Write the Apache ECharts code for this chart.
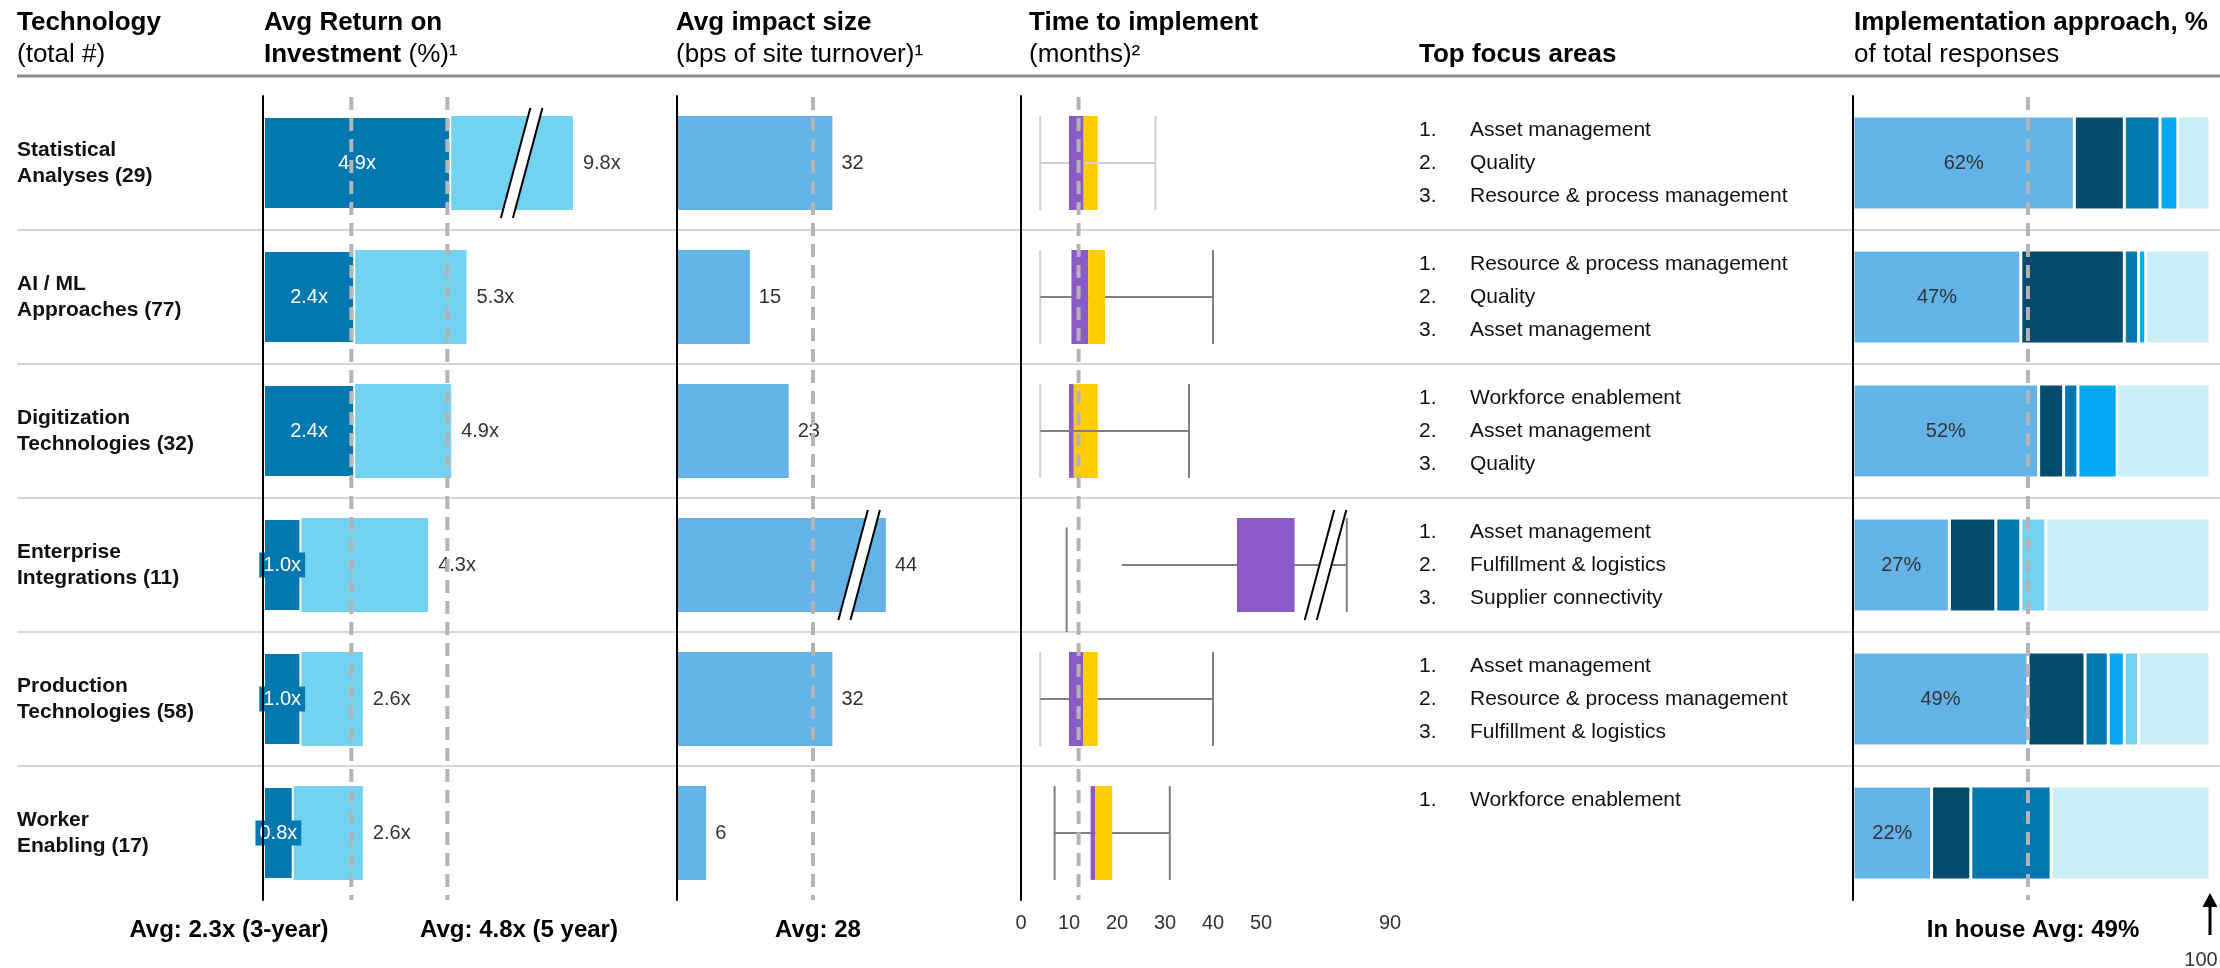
<!DOCTYPE html>
<html>
<head>
<meta charset="utf-8">
<script src="https://cdn.jsdelivr.net/npm/echarts@6.0.0/dist/echarts.min.js"></script>
<style>
  html, body { margin: 0; padding: 0; background: #fff; }
  #chart { width: 2220px; height: 968px; }
</style>
</head>
<body>
<div id="chart"></div>
<script>
// ---------- data ----------
const categories = [
  'Statistical\nAnalyses',
  'AI / ML\nApproaches',
  'Digitization\nTechnologies',
  'Enterprise\nIntegrations',
  'Production\nTechnologies',
  'Worker\nEnabling'
];
const responseCounts = [29, 77, 32, 11, 58, 17];

// Return on investment (multiple)
const roi3Year = [4.9, 2.4, 2.4, 1.0, 1.0, 0.8];
const roi5Year = [9.8, 5.3, 4.9, 4.3, 2.6, 2.6];
const roi3YearAvg = 2.3;
const roi5YearAvg = 4.8;

// Impact size (bps of site turnover)
const impactBps = [32, 15, 23, 44, 32, 6];
const impactAvg = 28;

// Time to implement (months)
const timeLowCap = [4, 4, 4, 9.5, 4, 7];
const timeLineFrom = [4, 4, 4, 21, 4, 7];
const timeQ1 = [10, 10.5, 10, 45, 10, 14.5];
const timeMedian = [13, 14, 11, 57, 13, 15.5];
const timeQ3 = [16, 17.5, 16, 57, 16, 19];
const timeHighCap = [28, 40, 35, 81, 40, 31];
const timeAvg = 12;
const timeTicks = [0, 10, 20, 30, 40, 50, 90];

// Top focus areas
const focusAreas = [
  ['Asset management', 'Quality', 'Resource & process management'],
  ['Resource & process management', 'Quality', 'Asset management'],
  ['Workforce enablement', 'Asset management', 'Quality'],
  ['Asset management', 'Fulfillment & logistics', 'Supplier connectivity'],
  ['Asset management', 'Resource & process management', 'Fulfillment & logistics'],
  ['Workforce enablement']
];

// Implementation approach, % of responses
const implInHouse = [62, 47, 52, 27, 49, 22];
const implApproachB = [14, 29, 7, 13, 16, 11];
const implApproachC = [10, 4, 4, 7, 6.5, 22.5];
const implApproachD = [5, 2, 11, 0, 4.5, 0];
const implApproachE = [0, 0, 0, 7, 4, 0];
const implApproachF = [9, 18, 26, 46, 20, 44.5];
const implInHouseAvg = 49;

// Axis breaks for the long bars
const roiBreak = { start: 6.2, end: 9.0, gap: 1.07 };
const impactBreak = { start: 36, end: 40, gap: 3 };
const timeBreak = { start: 60, end: 80, gap: 6.875 };

// ---------- styles ----------
const FONT = '"Liberation Sans", Arial, sans-serif';
const C = {
  roiDark: '#0277b0', roiLight: '#72d2f0', impact: '#63b3e9',
  purple: '#8a5bc6', yellow: '#ffcc00',
  whiskerDark: '#7f7f7f', whiskerFaint: '#d0d0d0',
  avg: '#b4b4b4', sep: '#c8c8c8', text: '#333', ink: '#111'
};
const implColors = ['#63b3e9', '#034b6f', '#0277b0', '#00a9f2', '#72d2f0', '#c8edf4'];

const TOP = 96, HEIGHT = 804;
const BAR_RATIO = 0.7;

const chart = echarts.init(document.getElementById('chart'), null, { renderer: 'canvas' });

function hiddenValueAxis(gridIndex, min, max, brk) {
  const ax = {
    gridIndex, type: 'value', min, max,
    axisLine: { show: false }, axisTick: { show: false },
    axisLabel: { show: false }, splitLine: { show: false }
  };
  if (brk) {
    ax.breaks = [{ start: brk.start, end: brk.end, gap: brk.gap }];
    ax.breakArea = { show: false, expandOnClick: false,
      itemStyle: { color: 'rgba(0,0,0,0)', borderColor: 'rgba(0,0,0,0)', borderWidth: 0, opacity: 0 } };
  }
  return ax;
}

function catAxis(gridIndex, showLine) {
  return {
    gridIndex, type: 'category', inverse: true, data: categories, z: 10,
    axisLine: { show: showLine, onZero: true, lineStyle: { color: '#000', width: 2 } },
    axisTick: { show: false }, axisLabel: { show: false }, splitLine: { show: false }
  };
}

// vertical dashed average marker across a panel
function avgLine(axisIndex, value) {
  return {
    type: 'custom', xAxisIndex: axisIndex, yAxisIndex: axisIndex, z: 20, silent: true,
    data: [[value, 0]], encode: { x: 0, y: 1 },
    renderItem(params, api) {
      const x = api.coord([api.value(0), 0])[0];
      const cs = params.coordSys;
      return {
        type: 'line',
        shape: { x1: x, y1: cs.y + 1, x2: x, y2: cs.y + cs.height },
        style: { stroke: C.avg, lineWidth: 4, lineDash: [13, 8] }
      };
    }
  };
}

// double-slash break marker drawn across a bar
function breakMark(cx, cy, band) {
  const h = band * 0.41, w = band * 0.155, t = band * 0.09;
  return {
    type: 'group',
    children: [
      { type: 'polygon', shape: { points: [[cx - w, cy + h], [cx - w + t, cy + h], [cx + w, cy - h], [cx + w - t, cy - h]] },
        style: { fill: '#fff' } },
      { type: 'line', shape: { x1: cx - w, y1: cy + h, x2: cx + w - t, y2: cy - h }, style: { stroke: '#000', lineWidth: 2 } },
      { type: 'line', shape: { x1: cx - w + t, y1: cy + h, x2: cx + w, y2: cy - h }, style: { stroke: '#000', lineWidth: 2 } }
    ]
  };
}

function breakSeries(axisIndex, values, brk) {
  const mid = (brk.start + brk.end) / 2;
  const items = [];
  values.forEach((v, i) => { if (v > brk.start) items.push([mid, i]); });
  return {
    type: 'custom', xAxisIndex: axisIndex, yAxisIndex: axisIndex, z: 15, silent: true,
    data: items, encode: { x: 0, y: 1 },
    renderItem(params, api) {
      const p = api.coord([api.value(0), api.value(1)]);
      const band = api.size([0, 1])[1];
      return breakMark(p[0], p[1], band);
    }
  };
}

// per-row drawing details of the time ranges
const whiskerTone = ['all', 'low', 'low', 'none', 'low', 'none'];   // which parts are faint
const layerOrder = ['yrlp', 'lpy', 'pyl', 'lpy', 'lpy', 'lpy'];     // l = range line, p = purple, y = yellow
const lowCapSpan = [null, null, null, [-0.28, 0.5], null, null];    // custom cap extent (band fractions)

const boxData = timeQ1.map((_, i) => [i, timeLowCap[i], timeLineFrom[i], timeQ1[i], timeMedian[i], timeQ3[i], timeHighCap[i]]);

const option = {
  animation: false,
  backgroundColor: '#fff',
  textStyle: { fontFamily: FONT },
  grid: [
    { left: 263, top: TOP, width: 356, height: HEIGHT, outerBoundsMode: 'none' },   // ROI
    { left: 677, top: TOP, width: 286.6, height: HEIGHT, outerBoundsMode: 'none' }, // impact
    { left: 1021, top: TOP, width: 369, height: HEIGHT, outerBoundsMode: 'none' },  // time
    { left: 1419, top: TOP, width: 400, height: HEIGHT, outerBoundsMode: 'none' },  // focus areas
    { left: 1853, top: TOP, width: 357, height: HEIGHT, outerBoundsMode: 'none' },  // implementation
    { left: 17, top: TOP, width: 2203, height: HEIGHT, outerBoundsMode: 'none' }    // row separators
  ],
  xAxis: [
    hiddenValueAxis(0, 0, 11, roiBreak),
    hiddenValueAxis(1, 0, 60, impactBreak),
    Object.assign(hiddenValueAxis(2, 0, 90, timeBreak), {
      axisLabel: {
        show: true, customValues: timeTicks, margin: 13,
        color: C.text, fontSize: 20, fontFamily: FONT
      }
    }),
    hiddenValueAxis(3, 0, 1),
    hiddenValueAxis(4, 0, 100),
    hiddenValueAxis(5, 0, 1)
  ],
  yAxis: [
    Object.assign(catAxis(0, true), {
      axisLabel: {
        show: true, align: 'left', margin: 246,
        fontSize: 21, fontWeight: 'bold', lineHeight: 26, color: C.ink, fontFamily: FONT,
        formatter: (v, i) => v + ' (' + responseCounts[i] + ')'
      }
    }),
    catAxis(1, true),
    catAxis(2, true),
    catAxis(3, false),
    catAxis(4, true),
    Object.assign(catAxis(5, false), {
      z: 0,
      splitLine: { show: true, showMinLine: false, showMaxLine: false, lineStyle: { color: C.sep, width: 1.5 } }
    })
  ],
  series: [
    // ROI: 5-year bar behind, 3-year bar in front
    {
      type: 'bar', name: '5-year ROI', xAxisIndex: 0, yAxisIndex: 0, z: 2,
      data: roi5Year, barWidth: `${BAR_RATIO * 100}%`, barGap: '-100%',
      itemStyle: { color: C.roiLight },
      label: { show: true, position: 'right', distance: 10, color: C.text, fontSize: 20,
        formatter: p => roi5Year[p.dataIndex].toFixed(1) + 'x' }
    },
    {
      type: 'bar', name: '3-year ROI', xAxisIndex: 0, yAxisIndex: 0, z: 3,
      data: roi3Year, barWidth: `${BAR_RATIO * 100}%`, barGap: '-100%',
      itemStyle: { color: C.roiDark, borderColor: '#fff', borderWidth: 2 },
      label: { show: true, position: 'inside', color: '#fff', fontSize: 20,
        backgroundColor: C.roiDark, padding: [3, 4, 2, 4],
        formatter: p => roi3Year[p.dataIndex].toFixed(1) + 'x' }
    },
    breakSeries(0, roi5Year, roiBreak),
    avgLine(0, roi3YearAvg),
    avgLine(0, roi5YearAvg),

    // Impact size
    {
      type: 'bar', name: 'Impact', xAxisIndex: 1, yAxisIndex: 1, z: 2,
      data: impactBps, barWidth: `${BAR_RATIO * 100}%`,
      itemStyle: { color: C.impact },
      label: { show: true, position: 'right', distance: 9, color: C.text, fontSize: 20 }
    },
    breakSeries(1, impactBps, impactBreak),
    avgLine(1, impactAvg),

    // Time to implement: range and quartile box
    {
      type: 'custom', name: 'Time', xAxisIndex: 2, yAxisIndex: 2, z: 3, silent: true,
      data: boxData, encode: { y: 0, x: [1, 2, 3, 4, 5, 6] },
      renderItem(params, api) {
        const row = api.value(0);
        const px = k => api.coord([api.value(k), row])[0];
        const cy = api.coord([0, row])[1];
        const band = api.size([0, 1])[1];
        const h = band * BAR_RATIO;
        const tone = whiskerTone[row];
        const lowColor = tone === 'none' ? C.whiskerDark : C.whiskerFaint;
        const restColor = tone === 'all' ? C.whiskerFaint : C.whiskerDark;
        const capLow = px(1), lineFrom = px(2), q1 = px(3), med = px(4), q3 = px(5), capHigh = px(6);
        const span = lowCapSpan[row];
        const lowY1 = span ? cy + span[0] * band : cy - h / 2;
        const lowY2 = span ? cy + span[1] * band : cy + h / 2;
        const parts = {
          l: { type: 'line', shape: { x1: lineFrom, y1: cy, x2: capHigh, y2: cy }, style: { stroke: restColor, lineWidth: 2 } },
          p: { type: 'rect', shape: { x: q1, y: cy - h / 2, width: med - q1, height: h }, style: { fill: C.purple } },
          y: { type: 'rect', shape: { x: med, y: cy - h / 2, width: q3 - med, height: h }, style: { fill: C.yellow } }
        };
        const children = [
          { type: 'line', shape: { x1: capLow, y1: lowY1, x2: capLow, y2: lowY2 }, style: { stroke: lowColor, lineWidth: 2 } },
          { type: 'line', shape: { x1: capHigh, y1: cy - h / 2, x2: capHigh, y2: cy + h / 2 }, style: { stroke: restColor, lineWidth: 2 } }
        ];
        layerOrder[row].split('').forEach(k => { if (parts[k]) children.push(parts[k]); });
        return { type: 'group', children };
      }
    },
    breakSeries(2, timeHighCap, timeBreak),
    avgLine(2, timeAvg),

    // Top focus areas as numbered lists
    {
      type: 'custom', name: 'Focus', xAxisIndex: 3, yAxisIndex: 3, silent: true,
      data: focusAreas.map((_, i) => [0, i]), encode: { x: 0, y: 1 },
      renderItem(params, api) {
        const row = api.value(1);
        const p = api.coord([0, row]);
        const step = api.size([0, 1])[1] * 0.245;
        const children = [];
        focusAreas[row].forEach((t, k) => {
          const y = p[1] + (k - 1) * step;
          const st = { fill: C.ink, font: `21px ${FONT}`, textVerticalAlign: 'middle', textAlign: 'left' };
          children.push({ type: 'text', style: Object.assign({ text: (k + 1) + '.', x: p[0], y }, st) });
          children.push({ type: 'text', style: Object.assign({ text: t, x: p[0] + 51, y }, st) });
        });
        return { type: 'group', children };
      }
    },

    // Implementation approach, stacked to 100%
    ...[implInHouse, implApproachB, implApproachC, implApproachD, implApproachE, implApproachF].map((arr, k) => ({
      type: 'bar', name: ['In house', 'B', 'C', 'D', 'E', 'F'][k], stack: 'impl',
      xAxisIndex: 4, yAxisIndex: 4, z: 2,
      data: arr, barWidth: `${BAR_RATIO * 100}%`,
      itemStyle: { color: implColors[k], borderColor: '#fff', borderWidth: 1.5 },
      label: k === 0
        ? { show: true, position: 'inside', color: C.text, fontSize: 20, formatter: '{c}%' }
        : { show: false }
    })),
    avgLine(4, implInHouseAvg)
  ]
};

chart.setOption(option);

// ---------- headers, footers ----------
const arrowX = chart.convertToPixel({ xAxisIndex: 4 }, 100);
const bold = s => `bold ${s}px ${FONT}`;
const reg = s => `${s}px ${FONT}`;
const hdr = (x, y, rich, text) => ({
  type: 'text', x, y, silent: true,
  style: { text, rich, fill: '#000', textVerticalAlign: 'middle', font: reg(26) }
});
const richHead = {
  b: { fontWeight: 'bold', fontSize: 26, fontFamily: FONT, fill: '#000' },
  r: { fontSize: 26, fontFamily: FONT, fill: '#000' }
};

chart.setOption({
  graphic: { elements: [
    { type: 'line', shape: { x1: 17, y1: 76, x2: 2220, y2: 76 }, style: { stroke: '#8c8c8c', lineWidth: 3 }, silent: true },

    hdr(17, 23, richHead, '{b|Technology}'),
    hdr(17, 55, richHead, '{r|(total #)}'),
    hdr(264, 23, richHead, '{b|Avg Return on}'),
    hdr(264, 55, richHead, '{b|Investment} {r|(%)¹}'),
    hdr(676, 23, richHead, '{b|Avg impact size}'),
    hdr(676, 55, richHead, '{r|(bps of site turnover)¹}'),
    hdr(1029, 23, richHead, '{b|Time to implement}'),
    hdr(1029, 55, richHead, '{r|(months)²}'),
    hdr(1419, 55, richHead, '{b|Top focus areas}'),
    hdr(1854, 23, richHead, '{b|Implementation approach, %}'),
    hdr(1854, 55, richHead, '{r|of total responses}'),

    { type: 'text', x: 229, y: 930, silent: true,
      style: { text: `Avg: ${roi3YearAvg}x (3-year)`, font: bold(24), fill: '#000', textAlign: 'center', textVerticalAlign: 'middle' } },
    { type: 'text', x: 519, y: 930, silent: true,
      style: { text: `Avg: ${roi5YearAvg}x (5 year)`, font: bold(24), fill: '#000', textAlign: 'center', textVerticalAlign: 'middle' } },
    { type: 'text', x: 818, y: 930, silent: true,
      style: { text: `Avg: ${impactAvg}`, font: bold(24), fill: '#000', textAlign: 'center', textVerticalAlign: 'middle' } },
    { type: 'text', x: 2033, y: 930, silent: true,
      style: { text: `In house Avg: ${implInHouseAvg}%`, font: bold(24), fill: '#000', textAlign: 'center', textVerticalAlign: 'middle' } },

    // arrow marking the 100% end of the implementation scale
    { type: 'line', shape: { x1: arrowX, y1: 935, x2: arrowX, y2: 904 }, style: { stroke: '#000', lineWidth: 3 }, silent: true },
    { type: 'polygon', shape: { points: [[arrowX - 7.5, 907], [arrowX + 7.5, 907], [arrowX, 893]] }, style: { fill: '#000' }, silent: true },
    { type: 'text', x: arrowX - 9, y: 960, silent: true,
      style: { text: '100', font: reg(20), fill: C.text, textAlign: 'center', textVerticalAlign: 'middle' } }
  ] }
});
</script>
</body>
</html>
